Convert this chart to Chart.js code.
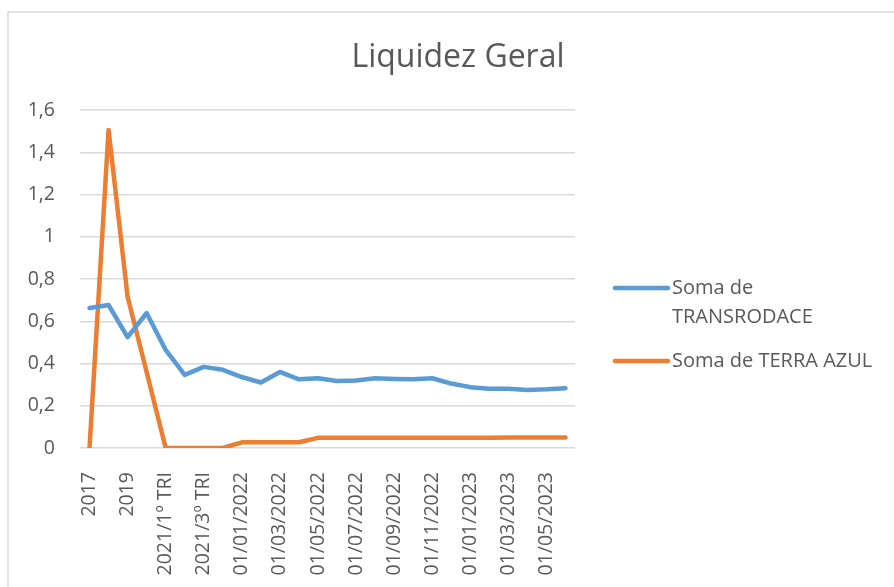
<!DOCTYPE html>
<html>
<head>
<meta charset="utf-8">
<script src="https://cdn.jsdelivr.net/npm/chart.js@4/dist/chart.umd.min.js"></script>
<style>
  html, body { margin: 0; padding: 0; background: #ffffff; }
  #wrap { width: 894px; height: 587px; position: relative; }
  canvas { display: block; }
</style>
</head>
<body>
<div id="wrap"><canvas id="c" width="894" height="587"></canvas></div>
<script>
const categories = [
  "2017", "2018", "2019", "2020",
  "2021/1º TRI", "2021/2º TRI", "2021/3º TRI", "2021/4º TRI",
  "01/01/2022", "01/02/2022", "01/03/2022", "01/04/2022", "01/05/2022", "01/06/2022",
  "01/07/2022", "01/08/2022", "01/09/2022", "01/10/2022", "01/11/2022", "01/12/2022",
  "01/01/2023", "01/02/2023", "01/03/2023", "01/04/2023", "01/05/2023", "01/06/2023"
];
const transrodace = [
  0.663, 0.677, 0.525, 0.639, 0.464, 0.346, 0.384, 0.370,
  0.336, 0.310, 0.360, 0.325, 0.330, 0.317, 0.320, 0.330, 0.327, 0.325, 0.330, 0.305,
  0.288, 0.280, 0.280, 0.275, 0.278, 0.283
];
const terraAzul = [
  0, 1.505, 0.716, 0.360, 0, 0, 0, 0,
  0.027, 0.027, 0.027, 0.027, 0.048, 0.048, 0.048, 0.048, 0.048, 0.048, 0.048, 0.048,
  0.048, 0.048, 0.050, 0.050, 0.050, 0.050
];
const seriesNames = [["Soma de", "TRANSRODACE"], ["Soma de TERRA AZUL"]];
const titleText = "Liquidez Geral";
const yTicks = { min: 0, max: 1.6, step: 0.2 };

const BLUE = "#5B9BD5";
const ORANGE = "#ED7D31";
const TEXT = "#595959";
const GRID = "#D9D9D9";
const FONT = "'Open Sans', Lato, sans-serif";

const decorPlugin = {
  id: "decor",
  beforeDraw(chart) {
    const ctx = chart.ctx;
    ctx.save();
    ctx.fillStyle = "#ffffff";
    ctx.fillRect(0, 0, chart.width, chart.height);
    ctx.strokeStyle = GRID;
    ctx.lineWidth = 1.5;
    ctx.beginPath();
    ctx.moveTo(8, chart.height);
    ctx.lineTo(8, 12);
    ctx.lineTo(chart.width, 12);
    ctx.stroke();
    ctx.restore();
  },
  afterDraw(chart) {
    const ctx = chart.ctx;
    ctx.save();
    ctx.fillStyle = TEXT;
    ctx.font = "32px " + FONT;
    ctx.textAlign = "center";
    ctx.textBaseline = "alphabetic";
    ctx.fillText(titleText, 458, 67);
    const items = [
      { color: BLUE, y: 288, lines: seriesNames[0] },
      { color: ORANGE, y: 361, lines: seriesNames[1] }
    ];
    ctx.font = "20px " + FONT;
    ctx.textAlign = "left";
    ctx.textBaseline = "middle";
    items.forEach(it => {
      ctx.strokeStyle = it.color;
      ctx.lineWidth = 4.5;
      ctx.lineCap = "round";
      ctx.beginPath();
      ctx.moveTo(615, it.y);
      ctx.lineTo(668, it.y);
      ctx.stroke();
      ctx.fillStyle = TEXT;
      it.lines.forEach((ln, i) => ctx.fillText(ln, 672, it.y + i * 29));
    });
    ctx.restore();
  }
};

new Chart(document.getElementById("c"), {
  type: "line",
  data: {
    labels: categories,
    datasets: [
      { label: seriesNames[0].join(" "), data: transrodace, borderColor: BLUE, backgroundColor: BLUE,
        borderWidth: 4.5, pointRadius: 0, tension: 0, borderCapStyle: "round", borderJoinStyle: "round" },
      { label: seriesNames[1].join(" "), data: terraAzul, borderColor: ORANGE, backgroundColor: ORANGE,
        borderWidth: 4.5, pointRadius: 0, tension: 0, borderCapStyle: "round", borderJoinStyle: "round" }
    ]
  },
  options: {
    responsive: false,
    animation: false,
    devicePixelRatio: 1,
    layout: { padding: { top: 110, right: 319, left: 0, bottom: 0 } },
    plugins: { legend: { display: false }, title: { display: false }, tooltip: { enabled: false } },
    scales: {
      x: {
        offset: true,
        grid: { display: false },
        border: { display: false },
        afterFit(scale) { scale.height = 139; },
        ticks: {
          autoSkip: false,
          maxRotation: 90,
          minRotation: 90,
          padding: 16,
          color: TEXT,
          font: { family: FONT, size: 19.5 },
          callback: function (v, i) { return i % 2 === 0 ? categories[i] : ""; }
        }
      },
      y: {
        min: yTicks.min,
        max: yTicks.max,
        border: { display: false },
        grid: { color: GRID, lineWidth: 1.5, drawTicks: false },
        afterFit(scale) { scale.width = 80; },
        ticks: {
          stepSize: yTicks.step,
          padding: 25,
          color: TEXT,
          font: { family: FONT, size: 19.5 },
          callback: function (v) { return Math.abs(v) < 1e-9 ? "0" : (Math.round(v * 10) / 10).toString().replace(".", ","); }
        }
      }
    }
  },
  plugins: [decorPlugin]
});
</script>
</body>
</html>
